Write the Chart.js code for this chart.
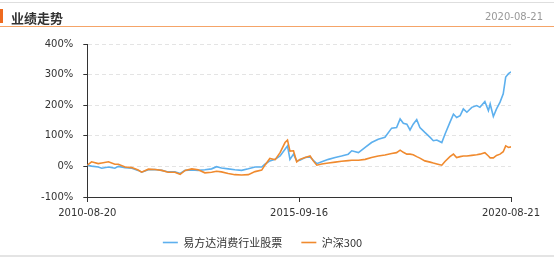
<!DOCTYPE html>
<html>
<head>
<meta charset="utf-8">
<script src="https://cdn.jsdelivr.net/npm/chart.js@4/dist/chart.umd.min.js"></script>
<style>
  html, body { margin: 0; padding: 0; background: #fff; overflow: hidden; width: 554px; height: 257px; }
  #wrap { position: relative; width: 554px; height: 257px; overflow: hidden; }
  #c { position: absolute; left: 0; top: 0; }
  .topline { position: absolute; left: 0; top: 2px; width: 554px; height: 1px; background: #dedede; }
  .bar { position: absolute; left: 0; top: 9px; width: 3px; height: 14px; background: #ee6a1f; }
  .title { position: absolute; left: 11px; top: 9px; font: bold 13px "Noto Sans CJK SC", sans-serif; color: #333; line-height: 17px; }
  .date { position: absolute; right: 11px; top: 9px; font: 10px "DejaVu Sans", sans-serif; color: #999; line-height: 15px; }
  .hline { position: absolute; left: 0; top: 26px; width: 554px; height: 1px; background: #f5a468; }
  .botline { position: absolute; left: 0; top: 255px; width: 554px; height: 2px; background: #e4e4e4; }
</style>
</head>
<body>
<div id="wrap">
  <canvas id="c" width="554" height="258"></canvas>
  <div class="topline"></div>
  <div class="bar"></div>
  <div class="title">业绩走势</div>
  <div class="date">2020-08-21</div>
  <div class="hline"></div>
  <div class="botline"></div>
</div>
<script>
// months since 2010-08-20
const months = [0,1.2,3.1,4.1,6,7.8,8.8,10.7,12.6,14.4,
  15.4,17.3,19.2,21.1,22.9,24.8,26.3,27.7,29.6,31.4,
  33.3,35.2,36.6,38,39.9,41.8,43.7,45.6,47.5,49.4,
  50.3,51.7,53.2,54.6,56,56.7,57.4,58.4,59.3,60.2,
  61.7,63.1,64,65,66.4,68.3,70.2,72,73.9,74.9,
  76.8,78.7,80.5,82.4,84.3,86.2,87.6,88.6,89.5,90.5,
  91.4,92.3,93.3,94.2,95.6,97.1,98,99,100.4,101.3,
  102.7,103.7,104.6,105.6,106.5,107.5,108.9,110.3,111.2,112.6,
  113.6,114.1,115,115.9,116.9,117.8,118.5,119.3,120];

// 易方达消费行业股票 cumulative return (%)
const fund = [4,1,-2,-6,-2,-6,0,-4,-6,-13,
  -19,-11,-10,-13,-18,-18,-23,-13,-12,-13,
  -11,-8,-1,-5,-8,-11,-13,-8,-2,-2,
  7,18,23,34,56,67,23,40,18,20,
  29,31,20,9,15,23,29,34,40,51,
  45,62,78,89,95,125,127,155,141,138,
  119,138,153,127,111,95,84,86,78,105,
  144,171,160,166,188,177,193,199,193,212,
  182,204,163,188,210,237,292,303,309];

// 沪深300 cumulative return (%)
const hs300 = [4,15,9,11,15,7,7,-2,-4,-12,
  -19,-9,-10,-13,-19,-19,-26,-13,-8,-11,
  -21,-19,-16,-18,-23,-27,-28,-27,-17,-12,
  4,26,22,45,78,86,50,51,15,23,
  29,34,18,4,8,11,14,17,19,20,
  20,23,29,34,37,42,45,53,46,40,
  40,38,32,27,18,14,11,8,4,16,
  32,40,29,32,34,34,36,38,40,45,
  34,28,28,36,40,48,67,62,64];

const tickMonths = [0, 60, 120];
const tickLabels = ['2010-08-20', '2015-09-16', '2020-08-21'];
const yTicks = [-100, 0, 100, 200, 300, 400];

const toPts = arr => arr.map((v, i) => ({x: months[i], y: v}));
const tickFont = {family: 'DejaVu Sans', size: 10};

new Chart(document.getElementById('c'), {
  type: 'line',
  data: {
    datasets: [
      {label: '沪深300', data: toPts(hs300), borderColor: '#f08a2e', backgroundColor: '#f08a2e', borderWidth: 1.6, pointRadius: 0, tension: 0},
      {label: '易方达消费行业股票', data: toPts(fund), borderColor: '#5db0ee', backgroundColor: '#5db0ee', borderWidth: 1.6, pointRadius: 0, tension: 0}
    ]
  },
  options: {
    responsive: false,
    animation: false,
    layout: {padding: {left: 14, right: 43, top: 44, bottom: 0}},
    plugins: {
      tooltip: {enabled: false},
      legend: {
        position: 'bottom',
        reverse: true,
        labels: {
          usePointStyle: true,
          pointStyle: 'line',
          pointStyleWidth: 15,
          padding: 19,
          color: '#333',
          font: {family: 'Noto Sans CJK SC', size: 11}
        }
      }
    },
    scales: {
      x: {
        type: 'linear',
        min: 0, max: 120,
        afterBuildTicks: s => { s.ticks = tickMonths.map(v => ({value: v})); },
        afterFit: s => { s.height = 21; },
        ticks: {
          autoSkip: false, maxRotation: 0, padding: 5, color: '#333', font: tickFont,
          callback: v => tickLabels[tickMonths.indexOf(v)]
        },
        grid: {drawOnChartArea: false, drawTicks: true, tickLength: 5, tickColor: '#333'},
        border: {display: true, color: '#333', width: 1}
      },
      y: {
        min: -100, max: 400,
        afterBuildTicks: s => { s.ticks = yTicks.map(v => ({value: v})); },
        afterFit: s => { s.width = 73.3; },
        ticks: {padding: 10, color: '#333', font: tickFont, callback: v => v + '%'},
        grid: {color: '#e4e4e4', lineWidth: 1, tickLength: 4, tickColor: '#333', tickBorderDash: []},
        border: {display: true, color: '#333', width: 1, dash: [4, 3]}
      }
    }
  }
});
</script>
</body>
</html>
